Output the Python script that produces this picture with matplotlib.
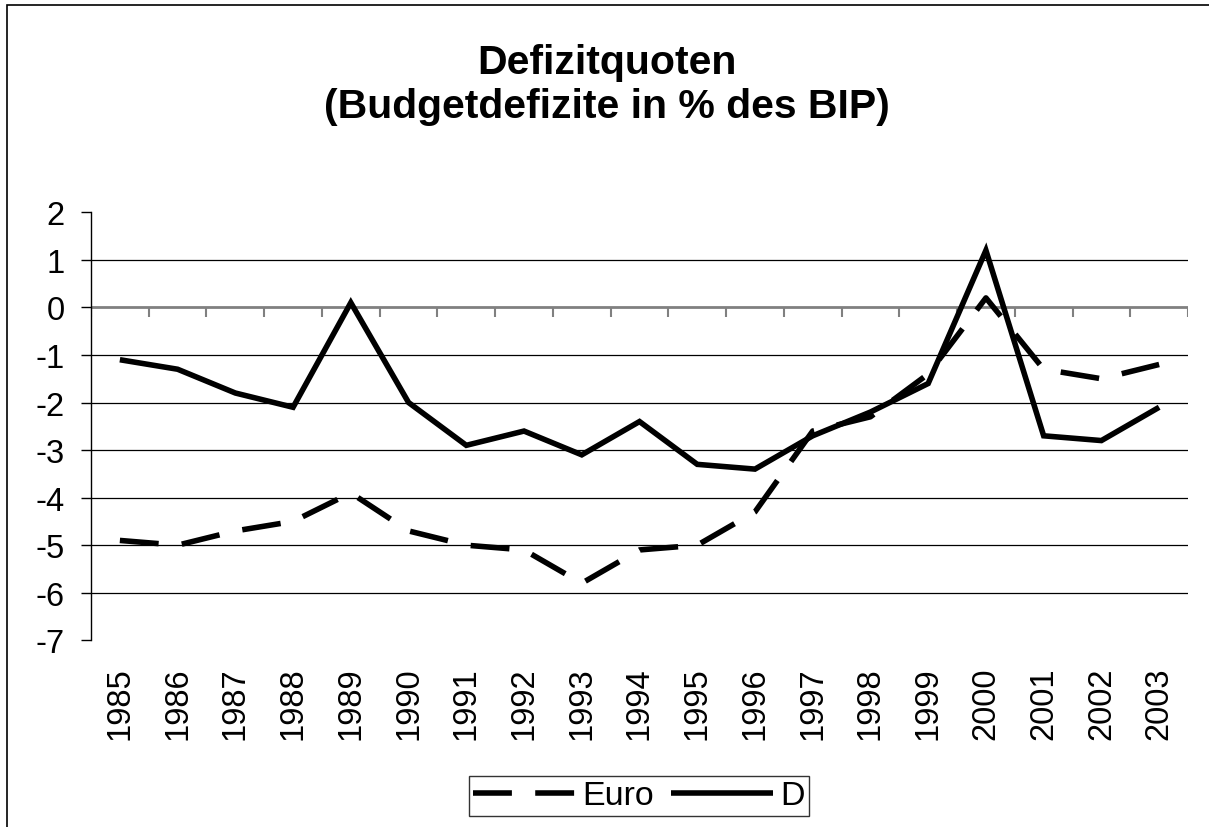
import numpy as np
import matplotlib
matplotlib.use("Agg")
import matplotlib.pyplot as plt
from matplotlib.patches import Rectangle

plt.rcParams['font.family'] = ['Liberation Sans', 'DejaVu Sans']

years = [str(y) for y in range(1985, 2004)]
euro = [-4.9, -5.0, -4.7, -4.5, -3.9, -4.7, -5.0, -5.1, -5.8, -5.1,
        -5.0, -4.3, -2.6, -2.3, -1.4, 0.2, -1.3, -1.5, -1.2]
d = [-1.1, -1.3, -1.8, -2.1, 0.1, -2.0, -2.9, -2.6, -3.1, -2.4,
     -3.3, -3.4, -2.7, -2.2, -1.6, 1.2, -2.7, -2.8, -2.1]
yticks = list(range(-7, 3))

W, H = 1209, 828
fig = plt.figure(figsize=(W / 100, H / 100), dpi=100)
ax = fig.add_axes([91 / W, 1 - 641.3 / H, (1188 - 91) / W, (641.3 - 213.3) / H])

# outer chart frame (only left/top visible in the reference)
fig.patches.append(Rectangle((7 / W, -0.1), 1.2, 1 - 6 / H + 0.1,
                             transform=fig.transFigure, fill=False,
                             edgecolor='black', linewidth=1.2))

x = np.arange(len(years))

# horizontal grid (no line at top/bottom), zero line is the category axis
for v in yticks:
    if v in (-7, 2):
        continue
    if v == 0:
        ax.axhline(0, color='#808080', lw=2.0, zorder=1)
    else:
        ax.axhline(v, color='black', lw=0.9, zorder=1)
ax.vlines(np.arange(-0.5, len(years)), -0.21, 0, color='#808080', lw=1.5, zorder=1)

ax.plot(x, euro, color='black', lw=4, dashes=(7, 4.2), dash_capstyle='butt',
        solid_joinstyle='miter', label='Euro', zorder=3)
ax.plot(x, d, color='black', lw=4, solid_joinstyle='miter',
        solid_capstyle='butt', label='D', zorder=3)

ax.set_xlim(-0.5, len(years) - 0.5)
ax.set_ylim(-7, 2)
ax.set_yticks(yticks)
ax.set_yticklabels([str(v) for v in yticks], fontsize=23.5)
ax.tick_params(axis='y', length=7, width=1, pad=12)
ax.set_xticks(x)
ax.set_xticklabels(years, rotation=90, fontsize=23.5)
ax.tick_params(axis='x', length=0, pad=19)

for s in ['top', 'right', 'bottom']:
    ax.spines[s].set_visible(False)
ax.spines['left'].set_linewidth(1)

fig.text(607 / W, 1 - 85 / H, 'Defizitquoten\n(Budgetdefizite in % des BIP)',
         ha='center', va='center', fontsize=29.5, fontweight='bold',
         linespacing=1.22)

leg = fig.legend(loc='center', bbox_to_anchor=(639 / W, 1 - 797 / H), ncol=2,
                 fontsize=24.5, frameon=True, fancybox=False, handlelength=3.0,
                 handletextpad=0.2, columnspacing=0.5, borderpad=0.12,
                 borderaxespad=0)
leg.get_frame().set_edgecolor('black')
leg.get_frame().set_linewidth(1)

fig.savefig('out.png', dpi=100)
